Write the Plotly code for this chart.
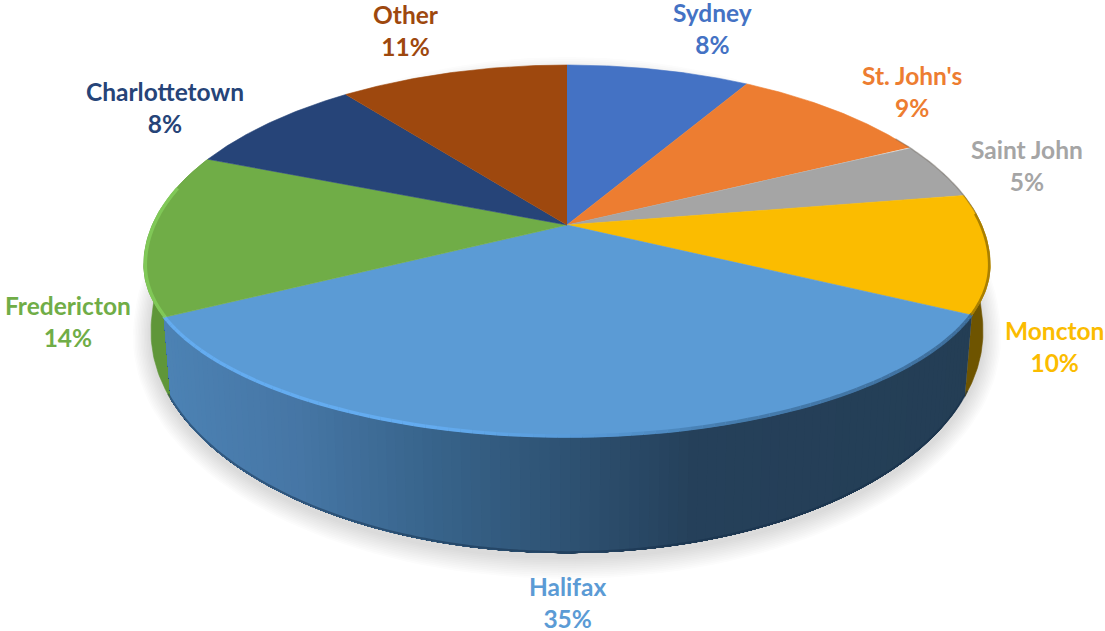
import numpy as np
import plotly.graph_objects as go

# ---- data ----
cities = ["Sydney", "St. John's", "Saint John", "Moncton", "Halifax",
          "Fredericton", "Charlottetown", "Other"]
shares = [8.0, 8.9, 4.6, 10.3, 36.2, 13.9, 8.1, 10.0]
labels_pct = [8, 9, 5, 10, 35, 14, 8, 11]

# ---- styles / layout ----
colors = ["#4472C4", "#ED7D31", "#A5A5A5", "#FBBC00", "#5B9BD5",
          "#70AD47", "#264478", "#9E480E"]
label_x = [712, 912, 1027, 1054, 567, 68, 165, 406]
label_y = [28, 91, 165, 346, 602, 321, 107, 30]
CX, CY = 567.0, 225.0      # apex of the pie on the page
A, B, K = 419.0, 182.4, 0.14  # perspective projection of the disc
FONT = "Lato"


def top(theta):
    """Rim point of the top face for clockwise angle theta from 12 o'clock."""
    w = 1 + K * np.cos(theta)
    x = CX + A * np.sin(theta) / w
    y = CY - B * np.cos(theta) / w
    # the rim's widest point sits lower than a plain ellipse's would
    y = np.where(y < 251, 65 + (y - 65) * 200 / 186, 265 + (y - 251) * 172 / 186)
    return x, y


def bottom(theta):
    x, y = top(theta)
    return CX + (x - CX) * 0.983, y + 82 + 0.286 * (y - 318)


def lerp_color(x, stops):
    xs = [s[0] for s in stops]
    r = np.interp(x, xs, [s[1][0] for s in stops])
    g = np.interp(x, xs, [s[1][1] for s in stops])
    b = np.interp(x, xs, [s[1][2] for s in stops])
    return f"rgb({r:.0f},{g:.0f},{b:.0f})"


fig = go.Figure()


def poly(xs, ys, fill, line=None, lw=0.6):
    fig.add_trace(go.Scatter(x=list(xs), y=list(ys), mode="lines", fill="toself",
                             fillcolor=fill, hoverinfo="skip", showlegend=False,
                             line=dict(color=line or fill, width=lw)))


def stroke(xs, ys, color, width):
    fig.add_trace(go.Scatter(x=list(xs), y=list(ys), mode="lines", hoverinfo="skip",
                             showlegend=False,
                             line=dict(color=color, width=width, shape="spline")))


total = sum(shares)
edges = np.cumsum([0] + shares) / total * 2 * np.pi
start = dict(zip(cities, edges[:-1]))
end = dict(zip(cities, edges[1:]))

# soft shadow below the body
th = np.linspace(0, 2 * np.pi, 180)
bx, by = bottom(th)
bcx, bcy = (bx.max() + bx.min()) / 2, (by.max() + by.min()) / 2
for i in range(12, 0, -1):
    sx = 1 + i * 0.0036
    sy = 1 + i * 0.0075
    poly(bcx + (bx - bcx) * sx, bcy + 4 + (by - bcy) * sy,
         "rgba(60,60,60,0.016)", "rgba(0,0,0,0)", 0)

# side walls: neighbouring slices
for name, col in [("Fredericton", "#5F9639"), ("Moncton", "#6E5400")]:
    t = np.linspace(start[name], end[name], 60)
    tx, ty = top(t)
    dx, dy = bottom(t[::-1])
    poly(np.r_[tx, dx], np.r_[ty, dy], col)

# side wall: Halifax with its left-to-right shading (painted back to front, no seams)
wall_stops = [(165, (76, 130, 180)), (300, (70, 118, 165)), (420, (57, 102, 142)),
              (570, (46, 82, 115)), (700, (37, 64, 90)), (980, (36, 62, 85))]
t = np.linspace(start["Halifax"], end["Halifax"], 111)
for a in t[:-1]:
    sweep = np.linspace(a, end["Halifax"], 100)
    tx, ty = top(sweep)
    dx, dy = bottom(sweep[::-1])
    poly(np.r_[tx, dx], np.r_[ty, dy], lerp_color(tx[0], wall_stops), lw=0)

# dark lip along the lower edge of the wall
t = np.linspace(start["Halifax"] - 0.02, end["Halifax"] + 0.02, 120)
lx, ly = bottom(t)
stroke(lx, ly - 1, "rgba(20,45,70,0.45)", 2)

# top faces
for i, name in enumerate(cities):
    t = np.linspace(edges[i], edges[i + 1], 80)
    x, y = top(t)
    poly(np.r_[CX, x], np.r_[CY, y], colors[i])

# rim bevel
bevel_stops = [(160, (100, 172, 240)), (430, (100, 172, 240)), (610, (85, 150, 210)),
               (720, (70, 125, 175)), (980, (62, 110, 155))]
t = np.linspace(start["Halifax"], end["Halifax"], 91)
for a, b in zip(t[:-1], t[1:]):
    tx, ty = top(np.array([a, b]))
    fig.add_trace(go.Scatter(x=tx, y=ty - 1, mode="lines", hoverinfo="skip", showlegend=False,
                             line=dict(color=lerp_color(tx.mean(), bevel_stops), width=3.5)))
t = np.linspace(start["Fredericton"], start["Fredericton"] + 0.7, 40)
tx, ty = top(t)
stroke(tx + 1.5, ty, "rgba(130,205,90,0.85)", 3.5)
t = np.linspace(start["Moncton"] + 0.1, end["Moncton"], 40)
tx, ty = top(t)
stroke(tx - 1, ty, "rgba(150,112,0,0.8)", 2.5)
t = np.linspace(start["St. John's"] + 0.5, start["Moncton"] + 0.1, 30)
tx, ty = top(t)
stroke(tx, ty, "rgba(90,80,70,0.35)", 1.5)

# data labels
for c, p, col, lx_, ly_ in zip(cities, labels_pct, colors, label_x, label_y):
    fig.add_annotation(x=lx_, y=ly_, text=f"<b>{c}<br>{p}%</b>", showarrow=False,
                       xanchor="center", yanchor="middle", align="center",
                       font=dict(family=FONT, size=24.5, color=col))

fig.update_layout(width=1105, height=631, margin=dict(l=0, r=0, t=0, b=0),
                  paper_bgcolor="white", plot_bgcolor="white", showlegend=False,
                  xaxis=dict(range=[0, 1105], visible=False, fixedrange=True),
                  yaxis=dict(range=[631, 0], visible=False, fixedrange=True))
fig.write_html("out.html", config={"displayModeBar": False},
               post_script="document.body.style.margin='0';document.body.style.overflow='hidden';")
